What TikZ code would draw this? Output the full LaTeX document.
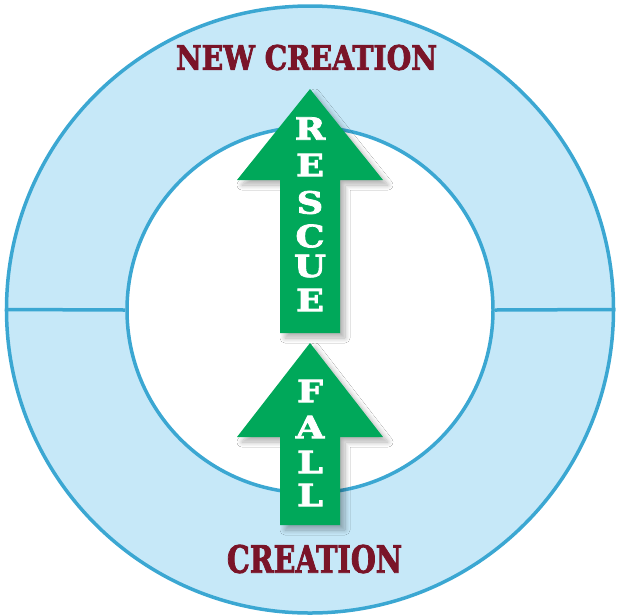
\documentclass[tikz,border=0pt]{standalone}
\usepackage{fontspec}
\setmainfont{DejaVu Serif}
\newfontfamily\heavy[FakeBold=2.5]{DejaVu Serif}
\usetikzlibrary{shadows.blur}
\definecolor{ringfill}{HTML}{C6E8F8}
\definecolor{ringline}{HTML}{3BA7D2}
\definecolor{arrowgreen}{HTML}{00A85A}
\definecolor{titlered}{HTML}{7A1428}
\tikzset{
  ring/.style={circle, draw=ringline, line width=3.5pt, inner sep=0pt},
  divider/.style={draw=ringline, line width=3.5pt},
  bigarrow/.style={fill=arrowgreen, blur shadow={shadow xshift=5pt, shadow yshift=-5pt, shadow opacity=30, shadow blur steps=10, shadow blur radius=5pt}},
  letter/.style={text=white, font=\heavy\bfseries\fontsize{30}{30}\selectfont, inner sep=0pt, anchor=center},
  title/.style={text=titlered, font=\heavy\bfseries, inner sep=0pt}
}
\begin{document}
\begin{tikzpicture}[x=1pt,y=-1pt]
\useasboundingbox (0,0) rectangle (620,614);
\node[ring, fill=ringfill, minimum size=607pt] (outer) at (310,309.5) {};
\node[ring, fill=white, minimum size=366pt] (inner) at (310,310) {};
\draw[divider] (outer.west) -- (inner.west);
\draw[divider] (inner.east) -- (outer.east);
% arrows
\fill[bigarrow] (280,333) -- (280,180) -- (237,180) -- (310,89) -- (383,180) -- (340,180) -- (340,333) -- cycle;
\fill[bigarrow] (280,525) -- (280,437) -- (237,437) -- (310,343) -- (383,437) -- (340,437) -- (340,525) -- cycle;
% letters
\foreach \l/\y [count=\i] in {R/128.5,E/165,S/202.5,C/236,U/266,E/300}
  \node[letter] (rescue\i) at (310,\y) {\scalebox{1.22}[1.02]{\l}};
\foreach \l/\y [count=\i] in {F/391,A/427,L/462,L/495}
  \node[letter] (fall\i) at (310,\y) {\scalebox{1.22}[1.02]{\l}};
% titles
\node[title] (newcreation) at (306.5,57.5) {\resizebox{261pt}{25pt}{NEW CREATION}};
\node[title] (creation) at (314.5,559) {\resizebox{175pt}{28pt}{CREATION}};
\end{tikzpicture}
\end{document}
